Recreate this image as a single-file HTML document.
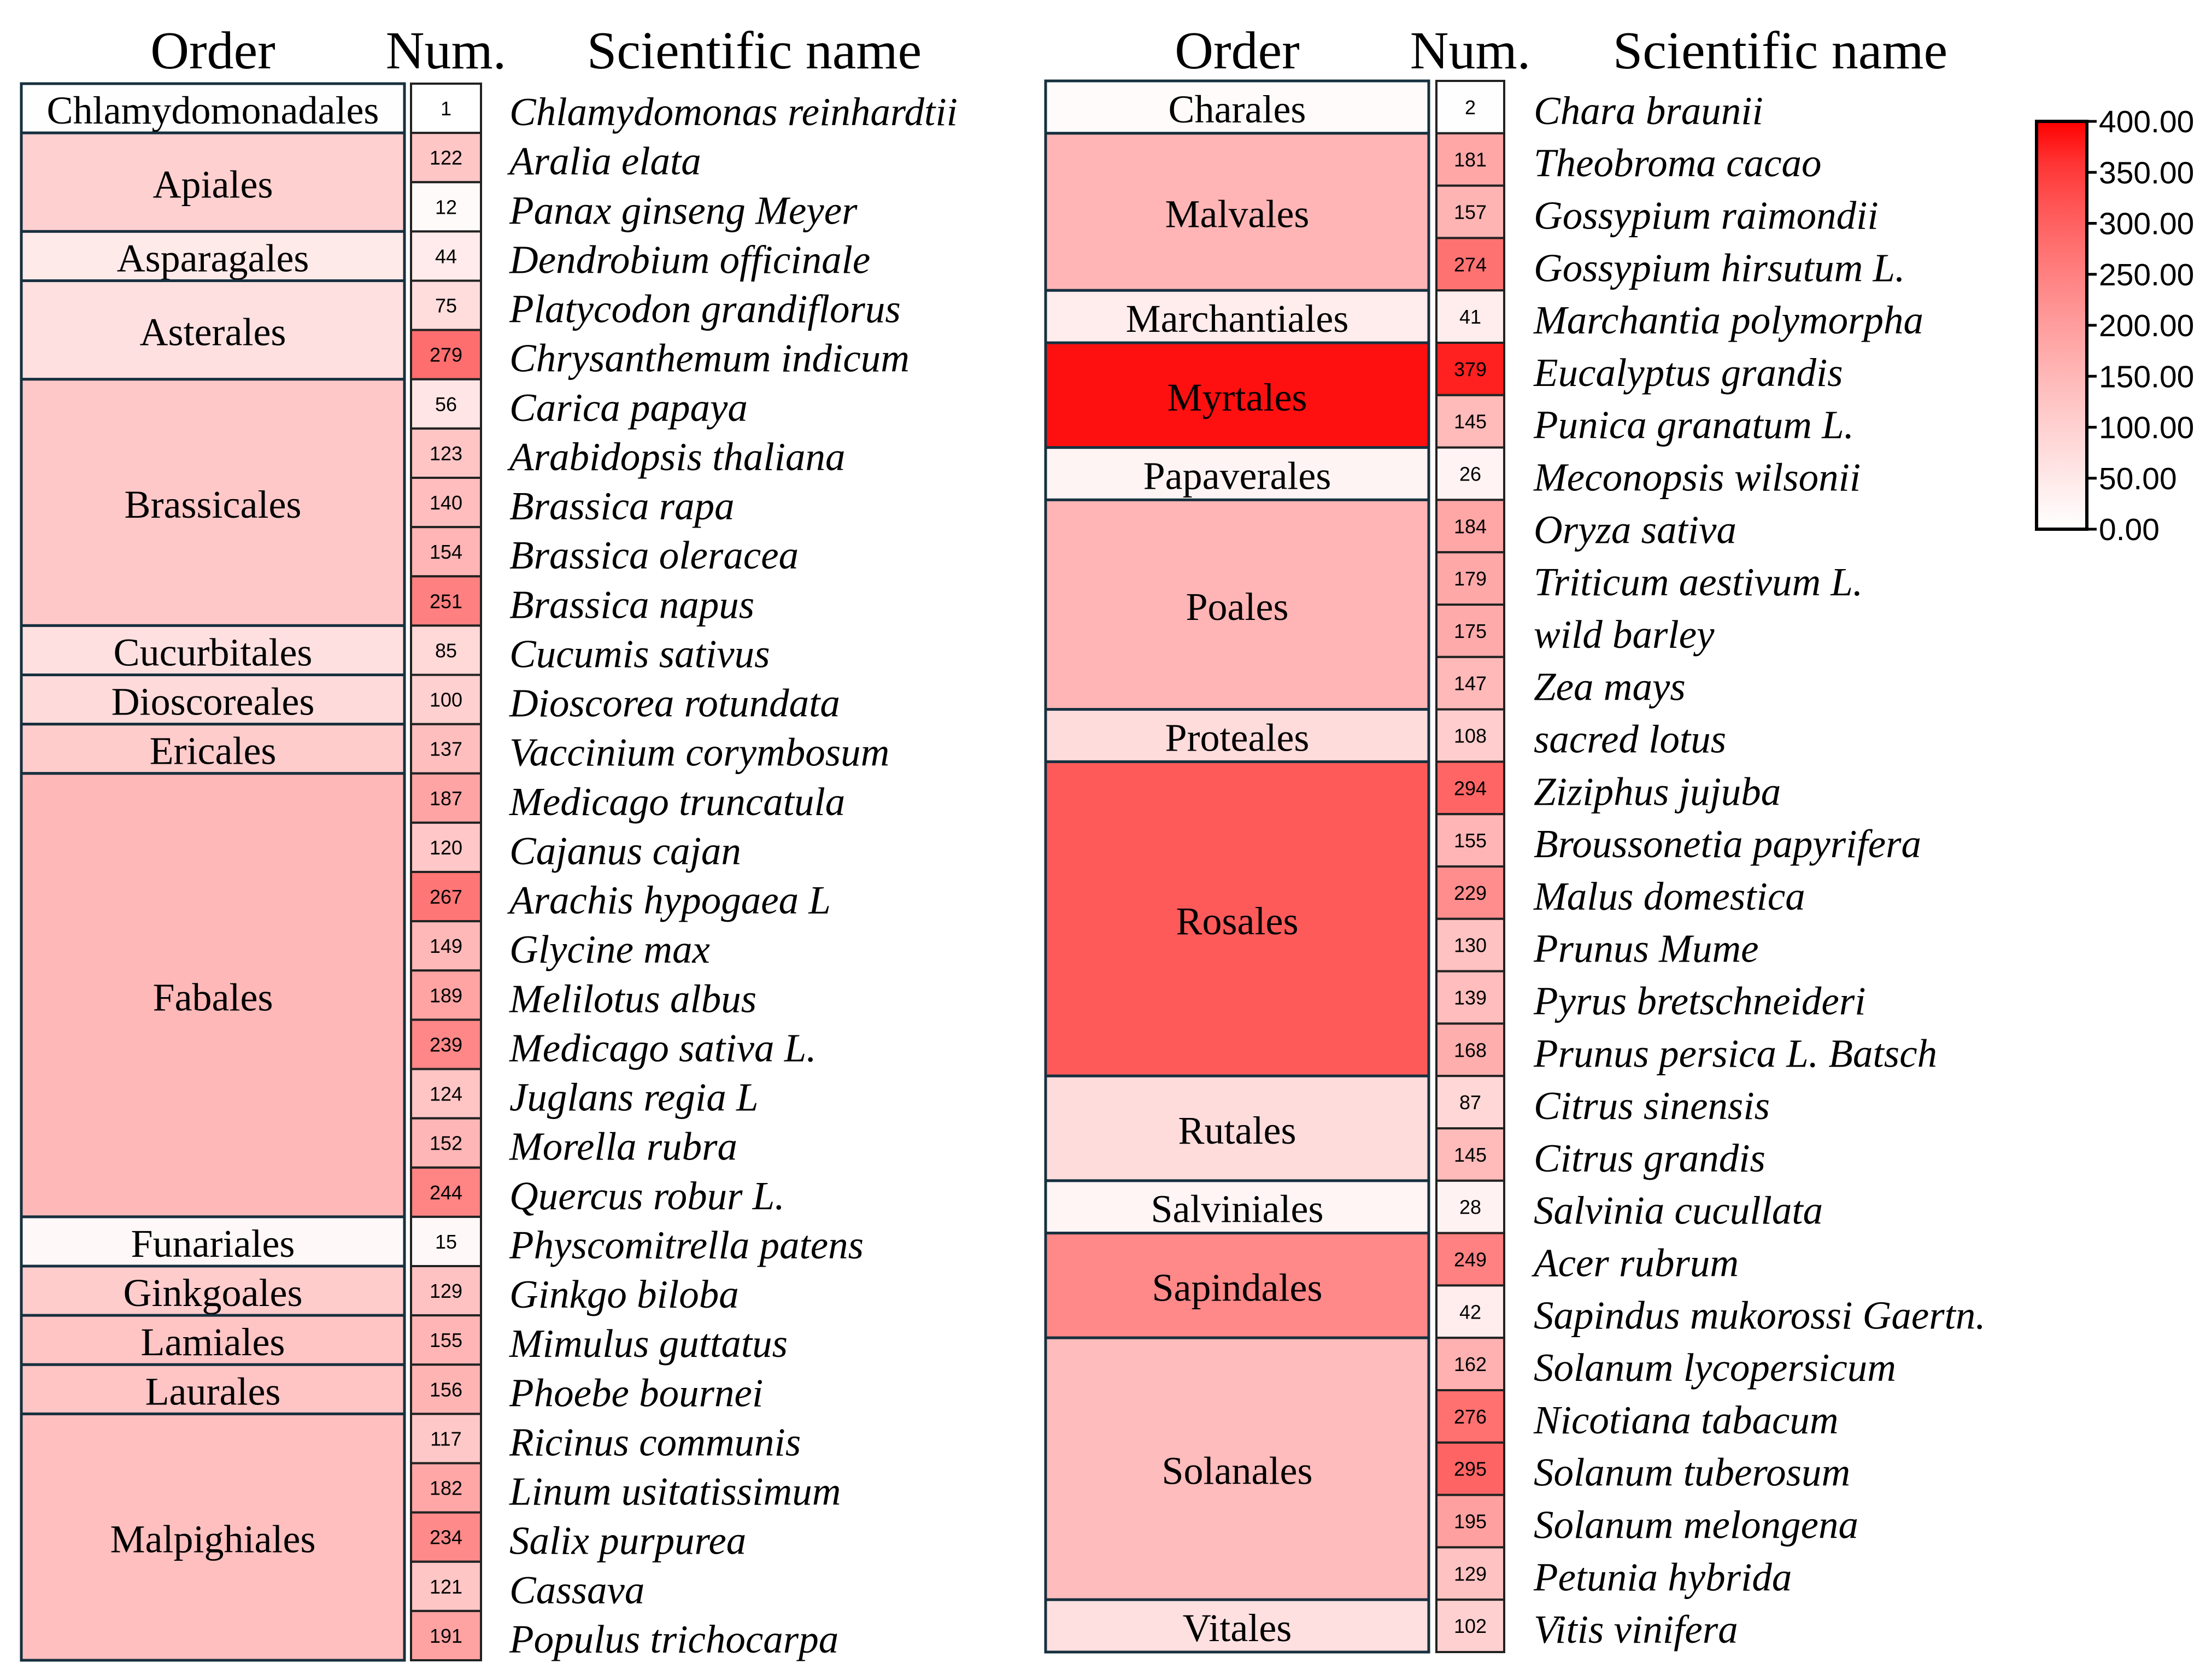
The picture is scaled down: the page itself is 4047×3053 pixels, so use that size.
<!DOCTYPE html>
<html><head><meta charset="utf-8"><style>
html,body{margin:0;padding:0;background:#fff;}
svg{display:block;}
</style></head><body>
<svg id="chart" xmlns="http://www.w3.org/2000/svg" width="4047" height="3053" viewBox="0 0 4047 3053"></svg>
<script>
// ---- data ----
const leftOrders = ["Chlamydomonadales","Apiales","Asparagales","Asterales","Brassicales","Cucurbitales","Dioscoreales","Ericales","Fabales","Funariales","Ginkgoales","Lamiales","Laurales","Malpighiales"];
const leftOrderSpans = [1,2,1,2,5,1,1,1,9,1,1,1,1,5];
const leftOrderValues = [2,101,46,68,117,68,80,109,150,15,109,125,125,135];
const leftSpecies = ["Chlamydomonas reinhardtii","Aralia elata","Panax ginseng Meyer"," Dendrobium officinale","Platycodon grandiflorus","Chrysanthemum indicum","Carica papaya","Arabidopsis thaliana","Brassica rapa","Brassica oleracea"," Brassica napus","Cucumis sativus","Dioscorea rotundata","Vaccinium corymbosum","Medicago truncatula","Cajanus cajan","Arachis hypogaea L","Glycine max","Melilotus albus","Medicago sativa L.","Juglans regia L","Morella rubra","Quercus robur L.","Physcomitrella patens","Ginkgo biloba","Mimulus guttatus","Phoebe bournei","Ricinus communis","Linum usitatissimum","Salix purpurea","Cassava","Populus trichocarpa"];
const leftNums = [1,122,12,44,75,279,56,123,140,154,251,85,100,137,187,120,267,149,189,239,124,152,244,15,129,155,156,117,182,234,121,191];

const rightOrders = ["Charales","Malvales","Marchantiales","Myrtales","Papaverales","Poales","Proteales","Rosales","Rutales","Salviniales","Sapindales","Solanales","Vitales"];
const rightOrderSpans = [1,3,1,2,1,4,1,6,2,1,2,5,1];
const rightOrderValues = [8,155,42,392,25,155,76,310,76,22,237,141,68];
const rightSpecies = ["Chara braunii","Theobroma cacao","Gossypium raimondii","Gossypium hirsutum L.","Marchantia polymorpha","Eucalyptus grandis","Punica granatum L.","Meconopsis wilsonii","Oryza sativa","Triticum aestivum L.","wild barley","Zea mays","sacred lotus","Ziziphus jujuba","Broussonetia papyrifera","Malus domestica","Prunus Mume","Pyrus bretschneideri","Prunus persica L. Batsch","Citrus sinensis","Citrus grandis","Salvinia cucullata","Acer rubrum","Sapindus mukorossi Gaertn.","Solanum lycopersicum","Nicotiana tabacum","Solanum tuberosum","Solanum melongena","Petunia hybrida","Vitis vinifera"];
const rightNums = [2,181,157,274,41,379,145,26,184,179,175,147,108,294,155,229,130,139,168,87,145,28,249,42,162,276,295,195,129,102];

const colorTicks = [0,50,100,150,200,250,300,350,400];
const colorTickLabels = ["0.00","50.00","100.00","150.00","200.00","250.00","300.00","350.00","400.00"];

// ---- helpers ----
const svg = document.getElementById('chart');
const NS = "http://www.w3.org/2000/svg";
const VMAX = 400;
function color(v){
  const t = Math.max(0, Math.min(1, 1 - v / VMAX));
  const g = Math.round(255 * Math.pow(t, 0.7));
  return `rgb(255,${g},${g})`;
}
function mk(tag, attrs, parent){
  const e = document.createElementNS(NS, tag);
  for (const k in attrs) e.setAttribute(k, attrs[k]);
  (parent || svg).appendChild(e);
  return e;
}
function txt(s, attrs, parent){
  const e = mk('text', attrs, parent);
  e.textContent = s;
  return e;
}
const SERIF = '"Liberation Serif", "Times New Roman", serif';

function panel(cfg){
  const g = mk('g', {});
  
  
  const n = cfg.species.length;
  const rowH = (cfg.bottom - cfg.top) / n;
  const yRow = i => cfg.top + i * rowH;
  const hdrs = [["Order", (cfg.ox0 + cfg.ox1) / 2, "order-header"], ["Num.", (cfg.nx0 + cfg.nx1) / 2, "num-header"], ["Scientific name", cfg.hdrNameX, "scientific-name-header"]];
  hdrs.forEach(h => {
    const t = txt(h[0], {x: h[1], y: cfg.hdrY, 'text-anchor': 'middle', 'font-family': SERIF, 'font-size': 98, fill: '#000'}, g);
    
    
  });
  let idx = 0;
  cfg.orders.forEach((o, k) => {
    const y0 = yRow(idx), y1 = yRow(idx + cfg.spans[k]);
    const r = mk('rect', {x: cfg.ox0, y: y0, width: cfg.ox1 - cfg.ox0, height: y1 - y0, fill: color(cfg.ovals[k]), stroke: '#17303f', 'stroke-width': 5}, g);
    
    
    const t = txt(o, {x: (cfg.ox0 + cfg.ox1) / 2, y: (y0 + y1) / 2 + 28, 'text-anchor': 'middle', 'font-family': SERIF, 'font-size': 72, fill: '#000'}, g);
    
    
    idx += cfg.spans[k];
  });
  cfg.species.forEach((s, i) => {
    const y0 = yRow(i);
    const r = mk('rect', {x: cfg.nx0, y: y0, width: cfg.nx1 - cfg.nx0, height: rowH, fill: color(cfg.nums[i]), stroke: '#222', 'stroke-width': 4}, g);
    
    
    const t = txt(String(cfg.nums[i]), {x: (cfg.nx0 + cfg.nx1) / 2, y: y0 + rowH / 2 + 13, 'text-anchor': 'middle', 'font-family': '"Liberation Sans", sans-serif', 'font-size': 36, fill: '#000'}, g);
    
    
    const sn = txt(s, {x: cfg.nameX, y: y0 + rowH / 2 + 31, 'font-family': SERIF, 'font-style': 'italic', 'font-size': 73, fill: '#000'}, g);
    
    
    sn.setAttribute('xml:space', 'preserve');
  });
}

panel({name: 'left-panel', orders: leftOrders, spans: leftOrderSpans, ovals: leftOrderValues, species: leftSpecies, nums: leftNums,
  top: 153, bottom: 3037, ox0: 39, ox1: 740, nx0: 752, nx1: 880, nameX: 932, hdrY: 125, hdrNameX: 1380});
panel({name: 'right-panel', orders: rightOrders, spans: rightOrderSpans, ovals: rightOrderValues, species: rightSpecies, nums: rightNums,
  top: 148, bottom: 3022, ox0: 1913, ox1: 2614, nx0: 2628, nx1: 2752, nameX: 2806, hdrY: 125, hdrNameX: 3257});

// ---- colorbar ----
const cb = mk('g', {});


const defs = mk('defs', {}, cb);
const lg = mk('linearGradient', {id: 'cbgrad', x1: 0, y1: 1, x2: 0, y2: 0}, defs);
for (let i = 0; i <= 10; i++) {
  mk('stop', {offset: i / 10, 'stop-color': color(i / 10 * VMAX)}, lg);
}
const cbX0 = 3726, cbX1 = 3818, cbY0 = 222, cbY1 = 968;
const cbY = v => cbY1 - (v / VMAX) * (cbY1 - cbY0);
const cbr = mk('rect', {x: cbX0, y: cbY0, width: cbX1 - cbX0, height: cbY1 - cbY0, fill: 'url(#cbgrad)', stroke: '#000', 'stroke-width': 6}, cb);


colorTicks.forEach((v, i) => {
  const tk = mk('line', {x1: cbX1, x2: cbX1 + 18, y1: cbY(v), y2: cbY(v), stroke: '#000', 'stroke-width': 5}, cb);
  
  
  const t = txt(colorTickLabels[i], {x: cbX1 + 22, y: cbY(v) + 20, 'font-family': '"Liberation Sans", sans-serif', 'font-size': 57, fill: '#000'}, cb);
  
  
});
</script>
</body></html>
